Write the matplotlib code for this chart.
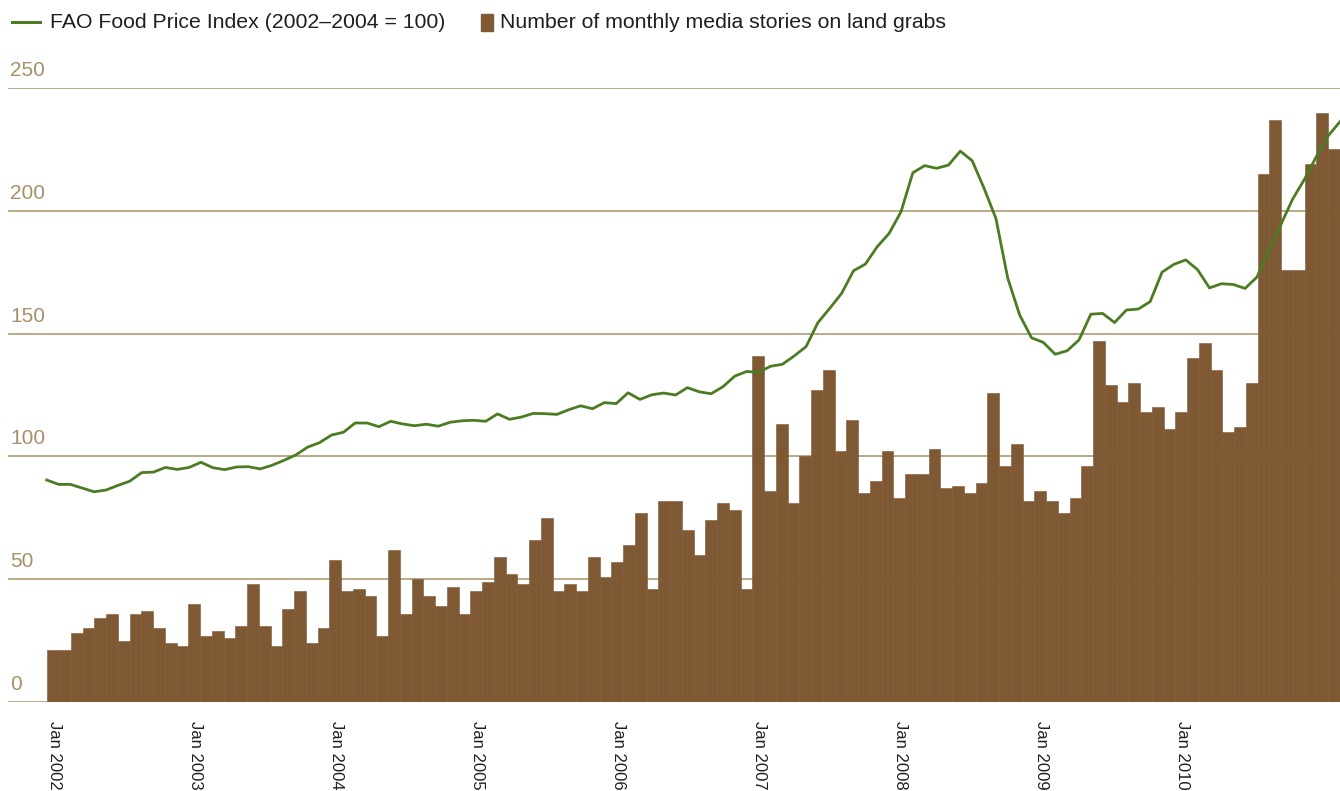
import matplotlib
matplotlib.use("Agg")
import matplotlib.pyplot as plt
from matplotlib.lines import Line2D
from matplotlib.patches import Rectangle

plt.rcParams['font.family'] = ['Liberation Sans', 'DejaVu Sans']

# Numero mensual de noticias sobre acaparamiento de tierras (Jan 2002 - Feb 2011)
stories = [21, 21, 28, 30, 34, 36, 25, 36, 37, 30, 24, 23,
           40, 27, 29, 26, 31, 48, 31, 23, 38, 45, 24, 30,
           58, 45, 46, 43, 27, 62, 36, 50, 43, 39, 47, 36,
           45, 49, 59, 52, 48, 66, 75, 45, 48, 45, 59, 51,
           57, 64, 77, 46, 82, 82, 70, 60, 74, 81, 78, 46,
           141, 86, 113, 81, 100, 127, 135, 102, 115, 85, 90, 102,
           83, 93, 93, 103, 87, 88, 85, 89, 126, 96, 105, 82,
           86, 82, 77, 83, 96, 147, 129, 122, 130, 118, 120, 111,
           118, 140, 146, 135, 110, 112, 130, 215, 237, 176, 176, 219,
           240, 225]

# FAO Food Price Index (2002-2004 = 100), mismo periodo
fao_index = [90.4, 88.6, 88.6, 87.1, 85.6, 86.3, 88.2, 89.9, 93.4, 93.6, 95.5, 94.7,
             95.5, 97.6, 95.4, 94.6, 95.7, 95.8, 94.9, 96.4, 98.4, 100.6, 103.8, 105.6,
             108.7, 109.8, 113.6, 113.6, 112.1, 114.3, 113.2, 112.5, 113.1, 112.3, 113.9, 114.5,
             114.7, 114.3, 117.3, 115.1, 116.0, 117.5, 117.4, 117.1, 119.0, 120.6, 119.4, 121.9,
             121.5, 125.9, 123.2, 125.1, 125.8, 125.0, 128.0, 126.3, 125.5, 128.4, 132.7, 134.6,
             134.2, 136.7, 137.5, 140.9, 144.7, 154.5, 160.3, 166.4, 175.6, 178.3, 185.4, 190.8,
             199.6, 215.5, 218.4, 217.3, 218.6, 224.3, 220.4, 209.2, 196.9, 172.5, 157.6, 148.3,
             146.4, 141.6, 143.0, 147.4, 157.9, 158.2, 154.5, 159.6, 160.0, 163.0, 175.0, 178.2,
             180.0, 176.0, 168.6, 170.3, 170.0, 168.4, 173.0, 183.8, 194.2, 204.7, 212.8, 222.0,
             230.5, 236.3]

tick_labels = ["Jan 2002", "Jan 2003", "Jan 2004", "Jan 2005", "Jan 2006",
               "Jan 2007", "Jan 2008", "Jan 2009", "Jan 2010"]
y_ticks = [0, 50, 100, 150, 200, 250]

brown = "#7f5834"
green = "#4c7c22"
tan = "#a69068"
grid_color = "#b3a27f"
text_color = "#1f1f1f"

W, H = 1340, 791
fig = plt.figure(figsize=(W / 100, H / 100), dpi=100)
ax = fig.add_axes([8 / W, 1 - 702 / H, 1332 / W, (702 - 88) / H])

# Barras (una por mes)
months = list(range(len(stories)))
ax.bar(months, stories, width=1.0, align="edge", color=brown,
       edgecolor=brown, linewidth=0.4, zorder=2)
ax.set_xlim(-3.344, len(stories))
ax.set_ylim(0, 250)

for s in ax.spines.values():
    s.set_visible(False)

# Rejilla horizontal y etiquetas del eje Y encima de cada linea
ax.set_yticks(y_ticks)
ax.yaxis.grid(True, color=grid_color, linewidth=1.3)
ax.set_axisbelow(True)
ax.tick_params(axis="y", length=0, labelleft=False)
for v in y_ticks:
    ax.annotate(str(v), xy=(0, v), xycoords=ax.get_yaxis_transform(),
                xytext=(2, 12), textcoords="offset pixels",
                ha="left", va="baseline", color=tan, fontsize=15)

# Etiquetas de enero de cada anio
jan_months = [12 * i for i in range(len(tick_labels))]
ax.set_xticks([m + 0.6 for m in jan_months])
ax.set_xticklabels(tick_labels, rotation=-90, fontsize=12, color=text_color,
                   va="top", ha="center")
ax.tick_params(axis="x", length=0, pad=14)

# Indice FAO en un eje secundario (de borde a borde)
ax2 = ax.twiny()
ax2.plot(range(len(fao_index)), fao_index, color=green, linewidth=2.0)
ax2.set_xlim(-3.262, len(fao_index) - 1)
ax2.axis("off")

# Leyenda dibujada a mano
ly = 1 - 22 / H
fig.add_artist(Line2D([12 / W, 40 / W], [ly, ly], transform=fig.transFigure,
                      color=green, linewidth=2.2))
fig.text(50 / W, ly, "FAO Food Price Index (2002\u20132004 = 100)",
         va="center", fontsize=15.3, color=text_color)
fig.add_artist(Rectangle((481 / W, 1 - 31 / H), 12 / W, 17 / H,
                         transform=fig.transFigure, color=brown))
fig.text(500 / W, ly, "Number of monthly media stories on land grabs",
         va="center", fontsize=15.3, color=text_color)

fig.savefig("out.png", dpi=100)
